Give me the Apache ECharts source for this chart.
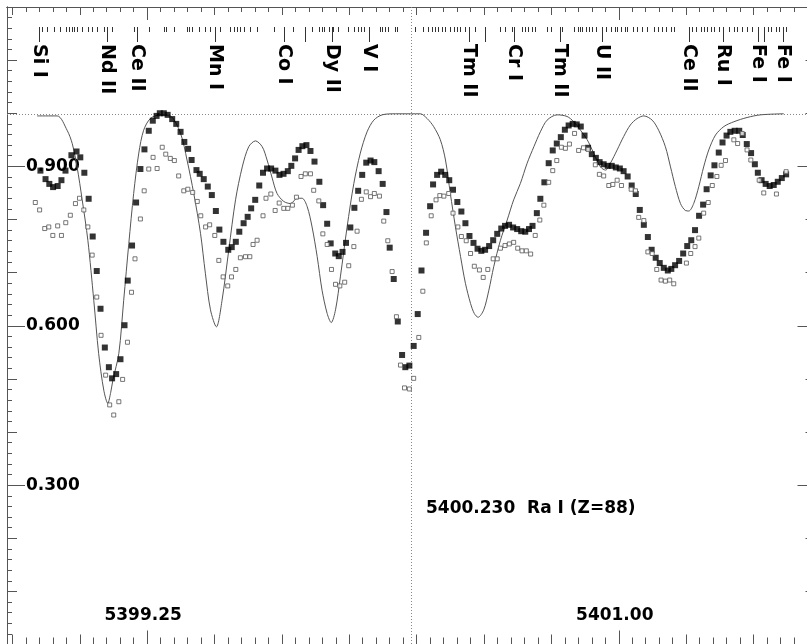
<!DOCTYPE html>
<html><head><meta charset="utf-8">
<script src="https://cdn.jsdelivr.net/npm/echarts@6/dist/echarts.min.js"></script>
<style>html,body{margin:0;padding:0;background:#fff}#c{width:807px;height:644px}</style>
</head><body><div id="c"></div>
<script>
// ---------- data ----------
const X_MIN = 5398.73, X_MAX = 5401.73;
const CENTER_WL = 5400.23;
const CONTINUUM = 1.0;
const Y_MIN = 0, Y_MAX = 1.2;
const X_MAJOR = [5399.25, 5401.00];
const X_MEDIUM = [5398.75, 5399.00, 5399.25, 5399.50, 5399.75, 5400.00, 5400.25, 5400.50, 5400.75, 5401.00, 5401.25, 5401.50];
const X_MINOR_FIRST = 5398.75, X_MINOR_LAST = 5401.70, X_MINOR_STEP = 0.05;
const ANNOTATION = '5400.230  Ra I (Z=88)';

const SYNTH = [
[5398.842,0.995],[5398.916,0.995],[5398.953,0.968],[5398.972,0.943],[5398.990,0.899],[5399.009,0.837],[5399.030,0.761],[5399.052,0.648],[5399.070,0.548],[5399.089,0.479],[5399.104,0.454],[5399.115,0.475],[5399.123,0.498],[5399.145,0.548],[5399.163,0.648],[5399.182,0.755],[5399.200,0.849],[5399.219,0.925],[5399.237,0.968],[5399.262,0.990],[5399.299,0.997],[5399.336,0.995],[5399.374,0.962],[5399.398,0.912],[5399.423,0.849],[5399.448,0.774],[5399.466,0.699],[5399.485,0.630],[5399.507,0.598],[5399.528,0.648],[5399.553,0.743],[5399.578,0.837],[5399.603,0.899],[5399.627,0.937],[5399.652,0.948],[5399.677,0.937],[5399.695,0.912],[5399.714,0.878],[5399.732,0.849],[5399.757,0.834],[5399.782,0.830],[5399.807,0.840],[5399.825,0.840],[5399.844,0.824],[5399.862,0.786],[5399.881,0.730],[5399.899,0.667],[5399.918,0.623],[5399.933,0.606],[5399.949,0.630],[5399.967,0.692],[5399.992,0.786],[5400.017,0.868],[5400.041,0.925],[5400.066,0.965],[5400.091,0.987],[5400.122,0.997],[5400.171,0.999],[5400.227,0.999],[5400.264,0.999],[5400.289,0.990],[5400.313,0.975],[5400.338,0.950],[5400.357,0.912],[5400.375,0.849],[5400.394,0.786],[5400.413,0.730],[5400.431,0.680],[5400.450,0.642],[5400.464,0.623],[5400.478,0.616],[5400.499,0.630],[5400.518,0.667],[5400.536,0.711],[5400.561,0.761],[5400.586,0.799],[5400.610,0.837],[5400.635,0.868],[5400.660,0.906],[5400.685,0.937],[5400.709,0.965],[5400.734,0.987],[5400.771,0.997],[5400.808,0.994],[5400.833,0.984],[5400.858,0.968],[5400.883,0.950],[5400.907,0.925],[5400.932,0.899],[5400.951,0.893],[5400.969,0.906],[5400.994,0.931],[5401.018,0.956],[5401.043,0.978],[5401.068,0.990],[5401.093,0.995],[5401.124,0.987],[5401.148,0.968],[5401.173,0.937],[5401.192,0.899],[5401.210,0.862],[5401.229,0.830],[5401.247,0.817],[5401.260,0.816],[5401.278,0.830],[5401.297,0.862],[5401.315,0.899],[5401.334,0.931],[5401.359,0.959],[5401.390,0.975],[5401.427,0.984],[5401.476,0.992],[5401.526,0.997],[5401.612,0.999]
];

const FILLED = [
[5398.854,0.892],[5398.873,0.876],[5398.887,0.867],[5398.901,0.861],[5398.918,0.863],[5398.932,0.874],[5398.947,0.892],[5398.969,0.921],[5398.988,0.928],[5399.002,0.917],[5399.017,0.888],[5399.033,0.839],[5399.048,0.768],[5399.063,0.703],[5399.077,0.632],[5399.093,0.559],[5399.108,0.522],[5399.120,0.501],[5399.135,0.509],[5399.151,0.537],[5399.166,0.601],[5399.178,0.685],[5399.194,0.751],[5399.209,0.832],[5399.225,0.895],[5399.240,0.932],[5399.256,0.967],[5399.271,0.986],[5399.285,0.995],[5399.297,1.000],[5399.312,1.000],[5399.326,0.997],[5399.343,0.989],[5399.358,0.980],[5399.374,0.965],[5399.388,0.946],[5399.402,0.933],[5399.415,0.912],[5399.433,0.893],[5399.445,0.886],[5399.460,0.876],[5399.475,0.862],[5399.490,0.846],[5399.505,0.816],[5399.518,0.781],[5399.533,0.758],[5399.551,0.743],[5399.564,0.748],[5399.579,0.758],[5399.592,0.777],[5399.608,0.793],[5399.623,0.805],[5399.636,0.821],[5399.651,0.837],[5399.666,0.864],[5399.680,0.888],[5399.695,0.896],[5399.710,0.896],[5399.726,0.892],[5399.741,0.884],[5399.756,0.886],[5399.772,0.891],[5399.785,0.901],[5399.799,0.915],[5399.812,0.931],[5399.826,0.938],[5399.841,0.940],[5399.856,0.929],[5399.871,0.909],[5399.889,0.871],[5399.903,0.827],[5399.918,0.792],[5399.931,0.755],[5399.948,0.736],[5399.961,0.731],[5399.975,0.739],[5399.988,0.756],[5400.004,0.785],[5400.019,0.822],[5400.033,0.854],[5400.048,0.884],[5400.063,0.907],[5400.079,0.911],[5400.093,0.908],[5400.109,0.891],[5400.124,0.867],[5400.138,0.814],[5400.150,0.747],[5400.165,0.688],[5400.180,0.608],[5400.196,0.545],[5400.208,0.522],[5400.223,0.525],[5400.239,0.562],[5400.254,0.622],[5400.268,0.704],[5400.285,0.775],[5400.300,0.825],[5400.311,0.866],[5400.326,0.884],[5400.341,0.890],[5400.356,0.884],[5400.371,0.874],[5400.385,0.856],[5400.401,0.833],[5400.416,0.815],[5400.431,0.793],[5400.446,0.769],[5400.461,0.756],[5400.476,0.745],[5400.490,0.741],[5400.504,0.743],[5400.519,0.750],[5400.534,0.761],[5400.549,0.773],[5400.564,0.783],[5400.578,0.788],[5400.593,0.790],[5400.608,0.785],[5400.623,0.782],[5400.638,0.778],[5400.653,0.777],[5400.667,0.782],[5400.680,0.788],[5400.696,0.812],[5400.709,0.839],[5400.724,0.870],[5400.740,0.906],[5400.755,0.930],[5400.770,0.943],[5400.785,0.955],[5400.800,0.969],[5400.814,0.977],[5400.829,0.980],[5400.844,0.979],[5400.859,0.975],[5400.873,0.958],[5400.886,0.935],[5400.900,0.923],[5400.915,0.916],[5400.929,0.908],[5400.944,0.904],[5400.959,0.901],[5400.974,0.901],[5400.989,0.898],[5401.004,0.896],[5401.018,0.891],[5401.033,0.881],[5401.048,0.864],[5401.063,0.848],[5401.078,0.818],[5401.093,0.790],[5401.108,0.767],[5401.122,0.743],[5401.137,0.728],[5401.152,0.718],[5401.167,0.709],[5401.182,0.704],[5401.195,0.707],[5401.209,0.714],[5401.224,0.722],[5401.239,0.736],[5401.254,0.750],[5401.269,0.761],[5401.283,0.780],[5401.298,0.807],[5401.313,0.828],[5401.326,0.857],[5401.341,0.883],[5401.355,0.902],[5401.371,0.926],[5401.385,0.945],[5401.400,0.958],[5401.414,0.965],[5401.430,0.967],[5401.447,0.967],[5401.460,0.959],[5401.475,0.942],[5401.491,0.925],[5401.505,0.904],[5401.516,0.888],[5401.530,0.874],[5401.545,0.867],[5401.560,0.863],[5401.575,0.865],[5401.590,0.871],[5401.605,0.878],[5401.621,0.885]
];

const OPEN = [
[5398.835,0.832],[5398.851,0.818],[5398.870,0.783],[5398.885,0.786],[5398.900,0.770],[5398.918,0.788],[5398.932,0.770],[5398.948,0.794],[5398.965,0.808],[5398.984,0.830],[5398.999,0.840],[5399.015,0.818],[5399.030,0.786],[5399.046,0.733],[5399.063,0.654],[5399.079,0.582],[5399.096,0.507],[5399.111,0.451],[5399.126,0.432],[5399.145,0.457],[5399.159,0.499],[5399.177,0.569],[5399.192,0.663],[5399.205,0.726],[5399.225,0.801],[5399.239,0.854],[5399.256,0.895],[5399.272,0.917],[5399.287,0.896],[5399.306,0.936],[5399.319,0.923],[5399.336,0.915],[5399.351,0.911],[5399.367,0.882],[5399.386,0.854],[5399.401,0.857],[5399.419,0.851],[5399.436,0.834],[5399.449,0.807],[5399.467,0.786],[5399.482,0.790],[5399.501,0.770],[5399.516,0.723],[5399.532,0.692],[5399.549,0.675],[5399.563,0.692],[5399.579,0.706],[5399.596,0.728],[5399.615,0.730],[5399.631,0.730],[5399.643,0.753],[5399.658,0.761],[5399.680,0.807],[5399.691,0.840],[5399.709,0.848],[5399.725,0.817],[5399.740,0.831],[5399.757,0.821],[5399.772,0.821],[5399.789,0.827],[5399.804,0.842],[5399.821,0.881],[5399.837,0.886],[5399.856,0.886],[5399.868,0.855],[5399.887,0.835],[5399.902,0.773],[5399.918,0.753],[5399.934,0.706],[5399.949,0.678],[5399.965,0.675],[5399.983,0.682],[5399.998,0.713],[5400.017,0.749],[5400.029,0.778],[5400.045,0.838],[5400.063,0.852],[5400.079,0.843],[5400.093,0.849],[5400.112,0.844],[5400.128,0.797],[5400.143,0.760],[5400.159,0.702],[5400.175,0.617],[5400.190,0.526],[5400.205,0.483],[5400.223,0.481],[5400.239,0.501],[5400.258,0.578],[5400.273,0.665],[5400.286,0.756],[5400.304,0.807],[5400.322,0.837],[5400.336,0.845],[5400.351,0.844],[5400.369,0.849],[5400.385,0.812],[5400.403,0.786],[5400.416,0.768],[5400.434,0.760],[5400.450,0.736],[5400.464,0.712],[5400.483,0.705],[5400.497,0.691],[5400.514,0.706],[5400.534,0.726],[5400.549,0.726],[5400.561,0.746],[5400.578,0.751],[5400.594,0.754],[5400.610,0.757],[5400.625,0.746],[5400.641,0.741],[5400.657,0.741],[5400.673,0.735],[5400.690,0.770],[5400.707,0.799],[5400.722,0.827],[5400.740,0.870],[5400.755,0.892],[5400.770,0.911],[5400.787,0.936],[5400.802,0.934],[5400.817,0.942],[5400.836,0.962],[5400.851,0.930],[5400.869,0.935],[5400.886,0.932],[5400.913,0.903],[5400.928,0.885],[5400.944,0.882],[5400.963,0.864],[5400.978,0.866],[5400.994,0.874],[5401.010,0.864],[5401.046,0.857],[5401.062,0.854],[5401.074,0.804],[5401.093,0.798],[5401.108,0.739],[5401.124,0.736],[5401.141,0.706],[5401.157,0.686],[5401.173,0.684],[5401.189,0.686],[5401.204,0.679],[5401.251,0.718],[5401.267,0.736],[5401.283,0.749],[5401.297,0.765],[5401.315,0.812],[5401.332,0.832],[5401.347,0.864],[5401.364,0.881],[5401.380,0.902],[5401.396,0.911],[5401.427,0.950],[5401.441,0.943],[5401.458,0.962],[5401.476,0.931],[5401.490,0.912],[5401.521,0.874],[5401.538,0.850],[5401.585,0.848],[5401.621,0.890]
];

// identified lines (long markers) and their names ('' = unlabelled)
const ID_WL = [5398.848,5399.100,5399.212,5399.500,5399.758,5399.836,5399.936,5400.074,5400.443,5400.504,5400.611,5400.781,5400.938,5401.260,5401.388,5401.515,5401.539,5401.609];
const ID_NAME = ['Si I','Nd II','Ce II','Mn I','Co I','','Dy II','V I','Tm II','','Cr I','Tm II','U II','Ce II','Ru I','Fe I','','Fe I'];
// other line-list positions (short markers)
const SMALL_WL = [5398.860,5398.879,5398.903,5398.925,5398.949,5398.959,5398.972,5398.980,5398.990,5399.009,5399.030,5399.046,5399.064,5399.089,5399.120,5399.200,5399.256,5399.312,5399.320,5399.349,5399.398,5399.407,5399.417,5399.441,5399.466,5399.485,5399.522,5399.559,5399.571,5399.584,5399.596,5399.608,5399.633,5399.658,5399.719,5399.793,5399.861,5399.886,5399.898,5399.908,5399.923,5399.941,5399.960,5399.997,5400.019,5400.034,5400.044,5400.053,5400.115,5400.121,5400.131,5400.145,5400.168,5400.176,5400.244,5400.275,5400.294,5400.306,5400.319,5400.331,5400.343,5400.356,5400.374,5400.387,5400.399,5400.411,5400.430,5400.467,5400.560,5400.578,5400.603,5400.640,5400.653,5400.665,5400.677,5400.690,5400.735,5400.748,5400.791,5400.834,5400.847,5400.857,5400.865,5400.877,5400.890,5400.902,5400.915,5400.952,5400.970,5400.985,5400.995,5401.007,5401.022,5401.032,5401.051,5401.069,5401.088,5401.106,5401.131,5401.146,5401.162,5401.174,5401.193,5401.205,5401.273,5401.286,5401.304,5401.317,5401.329,5401.341,5401.354,5401.372,5401.410,5401.428,5401.440,5401.459,5401.477,5401.496,5401.552,5401.564,5401.582,5401.595,5401.620];

// ---------- chart ----------
const FONT = '"DejaVu Sans", "Liberation Sans", sans-serif';
const AX = '#555';
const X_MINOR = [];
for (let v = X_MINOR_FIRST; v <= X_MINOR_LAST + 1e-9; v += X_MINOR_STEP) X_MINOR.push(Math.round(v * 100) / 100);

function xAx(pos, len, ticks, withLabels) {
  return {
    type: 'value', min: X_MIN, max: X_MAX, position: pos,
    axisLine: { show: true, onZero: false, lineStyle: { color: AX, width: 1 } },
    axisTick: { show: true, inside: true, length: len, customValues: ticks, lineStyle: { color: AX } },
    axisLabel: withLabels ? { show: true, inside: true, margin: 20, customValues: ticks, padding: [0, 8, 0, 0],
      formatter: v => v.toFixed(2), color: '#000', fontFamily: FONT, fontWeight: 'bold', fontSize: 17 } : { show: false },
    splitLine: { show: false }
  };
}
function yAx(pos, interval, len, minor, withLabels) {
  return {
    type: 'value', min: Y_MIN, max: Y_MAX, interval: interval, position: pos,
    axisLine: { show: true, onZero: false, lineStyle: { color: AX, width: 1 } },
    axisTick: { show: true, inside: true, length: len, lineStyle: { color: AX } },
    minorTick: minor ? { show: true, splitNumber: 5, length: 5, lineStyle: { color: AX } } : { show: false },
    axisLabel: withLabels ? { show: true, inside: true, margin: 19, showMinLabel: false, showMaxLabel: false,
      formatter: v => v.toFixed(3), color: '#000', fontFamily: FONT, fontWeight: 'bold', fontSize: 17 } : { show: false },
    splitLine: { show: false }, minorSplitLine: { show: false }
  };
}

const chart = echarts.init(document.getElementById('c'), null, { renderer: 'canvas' });
chart.setOption({
  animation: false,
  backgroundColor: '#fff',
  grid: { left: 7, top: 7, width: 808.5, height: 637.5, containLabel: false, outerBoundsMode: 'none' },
  xAxis: [
    xAx('bottom', 14, X_MAJOR, true), xAx('bottom', 10, X_MEDIUM, false), xAx('bottom', 7, X_MINOR, false),
    xAx('top', 13, X_MAJOR, false), xAx('top', 8, X_MEDIUM, false), xAx('top', 5, X_MINOR, false)
  ],
  yAxis: [
    yAx('left', 0.3, 18, false, true), yAx('left', 0.1, 10, true, false),
    yAx('right', 0.3, 18, false, false), yAx('right', 0.1, 10, true, false)
  ],
  graphic: [{
    type: 'text', left: 426, top: 500, z: 10,
    style: { text: ANNOTATION, fill: '#000', font: 'bold 17px ' + FONT }
  }],
  series: [
    {
      // dotted guide lines: continuum level and the Ra I line position
      type: 'custom', xAxisIndex: 0, yAxisIndex: 0, z: 1, silent: true,
      data: [[CENTER_WL, CONTINUUM]], encode: { x: 0, y: 1 },
      renderItem: function (params, api) {
        const p = api.coord([api.value(0), api.value(1)]);
        const cs = params.coordSys;
        const x = Math.round(p[0]) + 0.5, y = Math.ceil(p[1]) + 0.5;
        const st = { stroke: '#888', lineWidth: 1, lineDash: [1, 2] };
        return { type: 'group', children: [
          { type: 'line', shape: { x1: cs.x, y1: y, x2: cs.x + cs.width, y2: y }, style: st },
          { type: 'line', shape: { x1: x, y1: cs.y, x2: x, y2: cs.y + cs.height }, style: st }
        ] };
      }
    },
    {
      type: 'line', data: SYNTH, xAxisIndex: 0, yAxisIndex: 0, showSymbol: false, smooth: 0.3,
      lineStyle: { color: '#555', width: 1 }, z: 2
    },
    {
      type: 'scatter', data: FILLED, xAxisIndex: 0, yAxisIndex: 0, symbol: 'rect', symbolSize: 6,
      itemStyle: { color: '#000' }, z: 3
    },
    {
      type: 'scatter', data: OPEN, xAxisIndex: 0, yAxisIndex: 0, symbol: 'rect', symbolSize: 4,
      itemStyle: { color: '#fff', borderColor: '#555', borderWidth: 1 }, z: 4
    },
    {
      type: 'custom', xAxisIndex: 0, yAxisIndex: 0, z: 5, silent: true,
      data: SMALL_WL.map(w => [w, 1]), encode: { x: 0, y: 1 },
      renderItem: function (params, api) {
        const p = api.coord([api.value(0), api.value(1)]);
        const top = params.coordSys.y;
        const x = Math.round(p[0]) + 0.5;
        return { type: 'line', shape: { x1: x, y1: top + 20, x2: x, y2: top + 25 }, style: { stroke: '#333', lineWidth: 1 } };
      }
    },
    {
      type: 'custom', xAxisIndex: 0, yAxisIndex: 0, z: 5, silent: true,
      data: ID_WL.map(w => [w, 1]), encode: { x: 0, y: 1 },
      renderItem: function (params, api) {
        const p = api.coord([api.value(0), api.value(1)]);
        const top = params.coordSys.y;
        const x = Math.round(p[0]) + 0.5;
        const kids = [{ type: 'line', shape: { x1: x, y1: top + 20, x2: x, y2: top + 35 }, style: { stroke: '#333', lineWidth: 1 } }];
        const name = ID_NAME[params.dataIndex];
        if (name) {
          kids.push({
            type: 'text', x: Math.round(p[0]), y: top + 37, rotation: -Math.PI / 2,
            style: { text: name, fill: '#000', font: 'bold 19px ' + FONT, align: 'left', verticalAlign: 'middle' }
          });
        }
        return { type: 'group', children: kids };
      }
    }
  ]
});
</script>
</body></html>
